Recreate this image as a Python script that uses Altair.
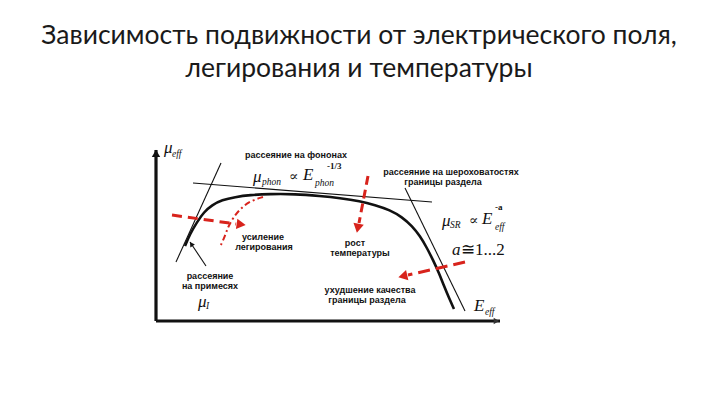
import math
import altair as alt
import pandas as pd

# ---------------- data (diagram coordinates) ----------------
# main mobility curve mu_eff(E_eff)
mu_x = [185, 190, 197, 204, 212, 222, 235, 250, 270, 295, 320, 340, 360, 375, 390, 402, 412, 420, 427, 433, 439, 444, 449, 454]
mu_y = [246, 234, 222, 212, 205, 200, 197, 195, 194, 194, 196, 198, 201, 205, 210, 217, 226, 236, 248, 260, 273, 286, 298, 309]

# asymptote lines (start, end)
phon_x = [193, 432]
phon_y = [183, 202]
sr_x = [405, 465]
sr_y = [188, 311]
imp_x = [221, 176]
imp_y = [163, 262]
pointer_x = [206, 190]
pointer_y = [266, 242]

# red dash-dot curve (increased doping)
dop_x = [263, 250, 240, 233, 228, 225, 220]
dop_y = [197, 201, 209, 218, 227, 236, 247]

# red dashed arrows
arrL_x = [172, 245]
arrL_y = [215, 225]
arrV_x = [368, 357]
arrV_y = [176, 232]
arrR_x = [465, 399]
arrR_y = [262, 277]

# axes of the diagram
yax_x = [156, 156]
yax_y = [321, 150]
xax_x = [156, 500]
xax_y = [321, 321]

# texts
title_lines = ["Зависимость подвижности от электрического поля,", "легирования и температуры"]
title_x = [359, 359]
title_y = [44, 77]

labels = ["рассеяние на фононах", "рассеяние на шероховатостях", "границы раздела",
          "усиление", "легирования", "рост", "температуры",
          "ухудшение качества", "границы раздела", "рассеяние", "на примесях"]
labels_x = [296, 451, 443, 263, 264, 355, 360, 370, 367, 210, 210]
labels_y = [155, 172, 182, 237, 247, 243, 253, 290, 300, 276, 286]

big_sym = ["μ", "μ", "E", "μ", "E", "μ", "E"]
big_x = [164, 253, 303, 442, 482, 198, 474]
big_y = [148, 177, 175, 221, 219, 302, 306]

sub_sym = ["eff", "phon", "phon", "SR", "eff", "I", "eff"]
sub_x = [172, 262, 315, 450, 495, 206, 485]
sub_y = [154, 182, 183, 225, 227, 306, 312]

sup_sym = ["-1/3", "-a"]
sup_x = [327, 495]
sup_y = [166, 207]

prop_sym = ["∝", "∝"]
prop_x = [289, 469]
prop_y = [177, 221]

aeq_x = [452]
aeq_y = [250]

RED = "#d8231c"
INK = "#111111"

xsc = alt.Scale(domain=[8, 712])
ysc = alt.Scale(domain=[8, 397], reverse=True)


def line(xs, ys, color, width, dash=None, interp="linear"):
    df = pd.DataFrame({"x": xs, "y": ys, "i": list(range(len(xs)))})
    kw = dict(color=color, strokeWidth=width, interpolate=interp, strokeCap="butt")
    if dash:
        kw["strokeDash"] = dash
    return alt.Chart(df).mark_line(**kw).encode(
        x=alt.X("x:Q", scale=xsc, axis=None),
        y=alt.Y("y:Q", scale=ysc, axis=None),
        order="i:Q",
    )


def head(xs, ys, color, size, length):
    dx = xs[-1] - xs[-2]
    dy = ys[-1] - ys[-2]
    L = math.hypot(dx, dy)
    ux, uy = dx / L, dy / L
    ang = math.degrees(math.atan2(dx, -dy)) % 360
    df = pd.DataFrame({"x": [xs[-1] - ux * length * 0.45], "y": [ys[-1] - uy * length * 0.45], "a": [ang]})
    return alt.Chart(df).mark_point(shape="triangle", filled=True, size=size, color=color, opacity=1).encode(
        x=alt.X("x:Q", scale=xsc, axis=None),
        y=alt.Y("y:Q", scale=ysc, axis=None),
        angle=alt.Angle("a:Q", scale=None),
    )


def texts(words, xs, ys, **kw):
    df = pd.DataFrame({"t": words, "x": xs, "y": ys})
    return alt.Chart(df).mark_text(**kw).encode(
        x=alt.X("x:Q", scale=xsc, axis=None),
        y=alt.Y("y:Q", scale=ysc, axis=None),
        text="t:N",
    )


layers = [
    # diagram axes
    line(yax_x, yax_y, INK, 3.2),
    line(xax_x, xax_y, INK, 3.2),
    head(yax_x, yax_y, INK, 70, 10),
    head(xax_x, xax_y, "#333333", 40, 10),
    # asymptotes
    line(phon_x, phon_y, INK, 1.1),
    line(sr_x, sr_y, INK, 1.1),
    line(imp_x, imp_y, INK, 1.1),
    line(pointer_x, pointer_y, INK, 1.1),
    head(pointer_x, pointer_y, INK, 30, 7),
    # main curve
    line(mu_x, mu_y, INK, 2.6, interp="basis"),
    # red arrows
    line(dop_x, dop_y, RED, 2.0, dash=[6, 3, 2, 3], interp="basis"),
    line(arrL_x[:1] + [arrL_x[1] - 9], arrL_y[:1] + [arrL_y[1] - 1], RED, 3.0, dash=[10, 6]),
    head(arrL_x, arrL_y, RED, 110, 12),
    line(arrV_x[:1] + [arrV_x[1] + 2], arrV_y[:1] + [arrV_y[1] - 9], RED, 3.0, dash=[9, 5]),
    head(arrV_x, arrV_y, RED, 110, 12),
    line(arrR_x[:1] + [arrR_x[1] + 9], arrR_y[:1] + [arrR_y[1] - 2], RED, 3.0, dash=[12, 6]),
    head(arrR_x, arrR_y, RED, 110, 12),
    # title
    texts(title_lines, title_x, title_y, font="Lato", fontSize=26.5, color="#1a1a1a",
          align="center", baseline="alphabetic"),
    # labels
    texts(labels, labels_x, labels_y, font="Liberation Sans", fontSize=9, fontWeight="bold",
          color=INK, align="center", baseline="middle"),
    # math
    texts(big_sym, big_x, big_y, font="Liberation Serif", fontSize=17, fontStyle="italic",
          color=INK, align="left", baseline="middle"),
    texts(sub_sym, sub_x, sub_y, font="Liberation Serif", fontSize=9.5, fontStyle="italic",
          color=INK, align="left", baseline="middle"),
    texts(sup_sym, sup_x, sup_y, font="Liberation Serif", fontSize=9, fontWeight="bold",
          color=INK, align="left", baseline="middle"),
    texts(prop_sym, prop_x, prop_y, font="DejaVu Serif", fontSize=14,
          color=INK, align="left", baseline="middle"),
    texts(["a"], aeq_x, aeq_y, font="Liberation Serif", fontSize=17, fontStyle="italic",
          color=INK, align="left", baseline="middle"),
    texts(["≅1...2"], [aeq_x[0] + 9], aeq_y, font="Liberation Serif", fontSize=17,
          color=INK, align="left", baseline="middle"),
]

chart = alt.layer(*layers).properties(
    width=704, height=389, autosize=alt.AutoSizeParams(type="none"), padding=0,
    background="white",
).configure_view(stroke=None)

chart.save("out.html", embed_options={"renderer": "svg", "actions": False})
